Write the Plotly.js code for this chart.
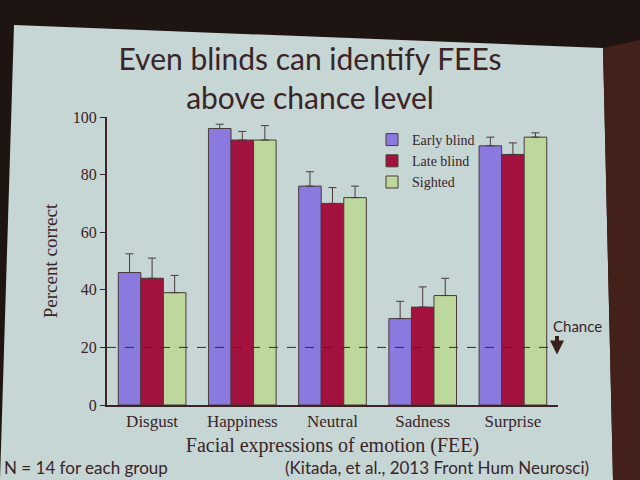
<!DOCTYPE html>
<html>
<head>
<meta charset="utf-8">
<script src="https://cdn.plot.ly/plotly-3.0.1.min.js"></script>
<style>
  html, body { margin: 0; padding: 0; background: #1e1512; }
  #chart { width: 640px; height: 480px; }
</style>
</head>
<body>
<div id="chart"></div>
<script>
// Recognition accuracy of facial expressions of emotion, by group
const emotions = ['Disgust', 'Happiness', 'Neutral', 'Sadness', 'Surprise'];
const earlyBlind = [46, 96, 76, 30, 90];
const earlyBlindErr = [6.5, 1.5, 5, 6, 3];
const lateBlind = [44, 92, 70, 34, 87];
const lateBlindErr = [7, 3, 5.5, 7, 4];
const sighted = [39, 92, 72, 38, 93];
const sightedErr = [6, 5, 4, 6, 1.5];
const chanceLevel = 20;
const yTicks = [0, 20, 40, 60, 80, 100];

// page geometry in pixels
const M = { l: 107, r: 82, t: 117, b: 75 };
const PW = 640 - M.l - M.r, PH = 480 - M.t - M.b;
const px = x => (x - M.l) / PW;
const py = y => 1 - (y - M.t) / PH;
const pathOf = pts => 'M' + pts.map(p => px(p[0]) + ',' + py(p[1])).join('L') + 'Z';

const ink = '#3a2428';
const serif = 'Liberation Serif, Times New Roman, serif';
const sans = 'Lato, Open Sans, sans-serif';

function series(name, vals, errs, color) {
  return {
    type: 'bar', name: name, x: emotions, y: vals,
    marker: { color: color, line: { color: '#4a3a3a', width: 1 } },
    error_y: { type: 'data', symmetric: false, array: errs,
               arrayminus: errs.map(() => 0), color: '#4a3a3a', thickness: 1, width: 4 }
  };
}

const data = [
  series('Early blind', earlyBlind, earlyBlindErr, '#8a7ae0'),
  series('Late blind', lateBlind, lateBlindErr, '#a3123e'),
  series('Sighted', sighted, sightedErr, '#bcd89c')
];

const layout = {
  width: 640, height: 480,
  margin: M,
  paper_bgcolor: '#1e1512',
  plot_bgcolor: 'rgba(0,0,0,0)',
  barmode: 'group', bargap: 0.25, bargroupgap: 0,
  showlegend: true,
  legend: {
    x: px(372), y: py(124), xanchor: 'left', yanchor: 'top',
    bgcolor: 'rgba(0,0,0,0)', font: { family: serif, size: 14, color: ink },
    itemwidth: 30, tracegroupgap: 0
  },
  title: {
    text: 'Even blinds can identify FEEs<br>above chance level',
    x: 310 / 640, xref: 'container', xanchor: 'center',
    y: 1 - 70 / 480, yref: 'container', yanchor: 'middle',
    font: { family: sans, size: 30, color: ink }
  },
  xaxis: {
    showline: true, linecolor: ink, linewidth: 2, ticks: '',
    tickfont: { family: serif, size: 17, color: ink },
    title: { text: 'Facial expressions of emotion (FEE)', standoff: 8,
             font: { family: serif, size: 20, color: ink } }
  },
  yaxis: {
    range: [0, 100], tickvals: yTicks, showgrid: false, zeroline: false,
    showline: true, linecolor: ink, linewidth: 2, ticks: 'outside', ticklen: 5,
    tickcolor: ink, tickfont: { family: serif, size: 16, color: ink },
    title: { text: 'Percent correct', standoff: 10,
             font: { family: serif, size: 19, color: ink } }
  },
  shapes: [
    // projected slide
    { type: 'path', xref: 'paper', yref: 'paper', layer: 'below',
      path: pathOf([[14, 25], [603, 48], [613, 480], [0, 480]]),
      fillcolor: '#c6d6d5', line: { width: 0 } },
    // frame edge on the right
    { type: 'path', xref: 'paper', yref: 'paper', layer: 'below',
      path: pathOf([[603, 48], [640, 40], [640, 480], [613, 480]]),
      fillcolor: '#44201a', line: { width: 0 } },
    // chance level
    { type: 'line', xref: 'paper', yref: 'y', x0: 0, x1: 1,
      y0: chanceLevel, y1: chanceLevel, layer: 'above',
      line: { color: '#3a2a2a', width: 1, dash: 'dash' } }
  ],
  annotations: [
    { text: 'Chance', xref: 'paper', yref: 'paper', x: px(551), y: py(326),
      xanchor: 'left', yanchor: 'middle', showarrow: false,
      font: { family: sans, size: 15, color: ink } },
    { text: '', xref: 'paper', yref: 'y', x: px(557), y: chanceLevel - 2.5,
      ax: 0, ay: -20, showarrow: true, arrowhead: 2, arrowsize: 0.7,
      arrowwidth: 4, arrowcolor: '#3a1e1a', standoff: 0 },
    { text: 'N = 14 for each group', xref: 'paper', yref: 'paper',
      x: px(2), y: py(467), xanchor: 'left', yanchor: 'middle', showarrow: false,
      font: { family: sans, size: 17, color: ink } },
    { text: '(Kitada, et al., 2013 Front Hum Neurosci)', xref: 'paper', yref: 'paper',
      x: px(283), y: py(467), xanchor: 'left', yanchor: 'middle', showarrow: false,
      font: { family: sans, size: 17, color: ink } }
  ]
};

Plotly.newPlot('chart', data, layout, { staticPlot: true, displayModeBar: false });
</script>
</body>
</html>
